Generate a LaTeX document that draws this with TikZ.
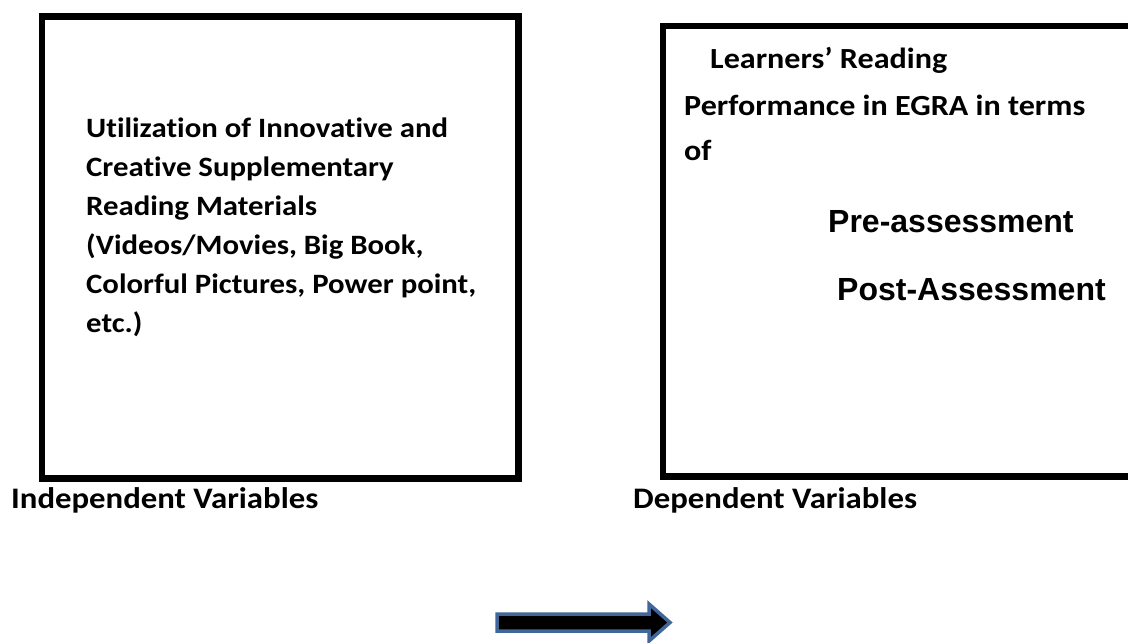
\documentclass[tikz,border=0pt]{standalone}
\usepackage{fontspec}
\newfontfamily\bodyfont[FakeStretch=1.1,Ligatures=NoCommon,Contextuals=NoAlternate]{Carlito}
\newfontfamily\headfont{Liberation Sans}
\definecolor{arrowblue}{HTML}{41679A}
\begin{document}
\begin{tikzpicture}[x=1pt,y=-1pt,
  frame/.style={draw=black,line width=6.5pt},
  body/.style={anchor=base west,inner sep=0pt,font=\bodyfont\bfseries\fontsize{28}{39}\selectfont},
  bodyr/.style={body,font=\bodyfont\bfseries\fontsize{29.2}{39}\selectfont},
  caption/.style={body,font=\bodyfont\bfseries\fontsize{29.8}{39}\selectfont},
  head/.style={anchor=base west,inner sep=0pt,font=\headfont\bfseries\fontsize{32}{38}\selectfont}]
\clip (0,0) rectangle (1128,643);
\fill[white] (0,0) rectangle (1128,643);

% the two variable boxes
\draw[frame] (42,16.5) rectangle (518.5,478.5);
\draw[frame] (663,26) rectangle (1140,476.5);

% independent variable
\node[body] (i1) at (86,137) {Utilizat\kern0pt ion of Innovat\kern0pt ive and};
\node[body] (i2) at (86,176) {Creat\kern0pt ive Supplementary};
\node[body] (i3) at (86,215) {Reading Materials};
\node[body] (i4) at (86,254) {(Videos/Movies, Big Book,};
\node[body] (i5) at (86,293) {Colorful Pictures, Power point,};
\node[body] (i6) at (86,332) {etc.)};

% dependent variable
\node[bodyr] (d1) at (710,68) {Learners’ Reading};
\node[bodyr] (d2) at (684,115) {Performance in EGRA in terms};
\node[bodyr] (d3) at (684,160) {of};
\node[head] (d4) at (828,232) {Pre-assessment};
\node[head] (d5) at (837,300) {Post-Assessment};

% captions
\node[caption] (cap1) at (11,508) {Independent Variables};
\node[caption] (cap2) at (633,508) {Dependent Variables};

% block arrow
\filldraw[fill=black,draw=arrowblue,line width=3.5pt,line join=miter]
  (497,614) -- (649,614) -- (649,604) -- (670,622.5) -- (649,641)
  -- (649,631) -- (497,631) -- cycle;
\end{tikzpicture}
\end{document}
